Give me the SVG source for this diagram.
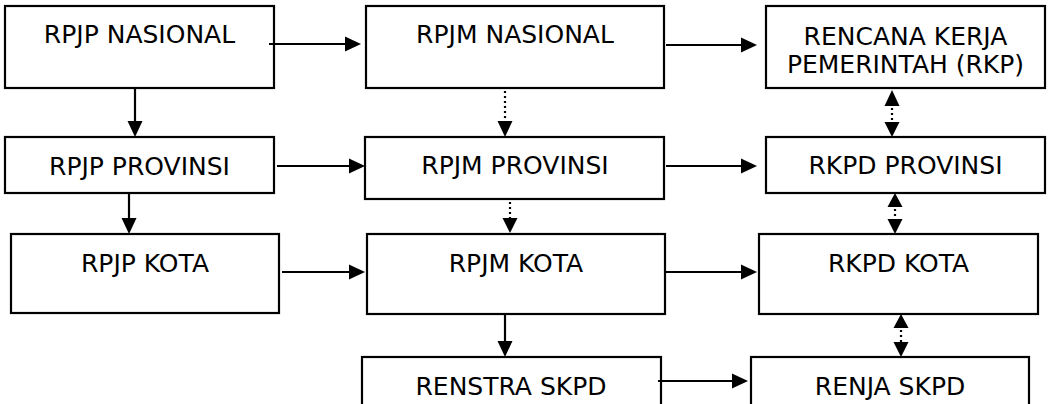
<svg xmlns="http://www.w3.org/2000/svg" width="1049" height="404" viewBox="0 0 1049 404">
<style>
.box{fill:#fff;stroke:#000;stroke-width:2.2}
.t{font-family:"DejaVu Sans",Verdana,sans-serif;font-size:25px;fill:#000;text-anchor:middle}
.ln{stroke:#000;stroke-width:2.2;fill:none}
.dot{stroke:#000;stroke-width:2.2;fill:none;stroke-dasharray:2 3}
.ah{fill:#000}
</style>
<rect width="1049" height="404" fill="#fff"/>
<g id="n1"><rect class="box" x="5" y="6" width="269" height="82"/><text class="t" x="139.5" y="43">RPJP NASIONAL</text></g>
<g id="n2"><rect class="box" x="366" y="6" width="298" height="82"/><text class="t" x="515" y="43">RPJM NASIONAL</text></g>
<g id="n3"><rect class="box" x="766" y="6" width="279" height="82"/><text class="t" x="905.5" y="45">RENCANA KERJA</text><text class="t" x="905.5" y="73">PEMERINTAH (RKP)</text></g>
<g id="n4"><rect class="box" x="5" y="137" width="269" height="56"/><text class="t" x="139.5" y="175">RPJP PROVINSI</text></g>
<g id="n5"><rect class="box" x="11" y="234" width="268" height="79"/><text class="t" x="145" y="272">RPJP KOTA</text></g>
<g id="n6"><rect class="box" x="365" y="137" width="299" height="62"/><text class="t" x="515" y="174">RPJM PROVINSI</text></g>
<g id="n7"><rect class="box" x="367" y="234" width="298" height="80"/><text class="t" x="516" y="272">RPJM KOTA</text></g>
<g id="n8"><rect class="box" x="766" y="137" width="279" height="56"/><text class="t" x="905.5" y="174">RKPD PROVINSI</text></g>
<g id="n9"><rect class="box" x="759" y="234" width="279" height="80"/><text class="t" x="898.5" y="272">RKPD KOTA</text></g>
<g id="n10"><rect class="box" x="362" y="357" width="299" height="60"/><text class="t" x="511" y="395">RENSTRA SKPD</text></g>
<g id="n11"><rect class="box" x="751" y="357" width="278" height="60"/><text class="t" x="890" y="395">RENJA SKPD</text></g>
<g id="connectors">
<line class="ln" x1="269" y1="44" x2="348" y2="44"/><polygon class="ah" points="345,36.5 361,44 345,51.5"/>
<line class="ln" x1="666" y1="45" x2="744" y2="45"/><polygon class="ah" points="741,37.5 757,45 741,52.5"/>
<line class="ln" x1="277" y1="166" x2="352" y2="166"/><polygon class="ah" points="349,158.5 365,166 349,173.5"/>
<line class="ln" x1="666" y1="166" x2="744" y2="166"/><polygon class="ah" points="741,158.5 757,166 741,173.5"/>
<line class="ln" x1="282" y1="272" x2="352" y2="272"/><polygon class="ah" points="349,264.5 365,272 349,279.5"/>
<line class="ln" x1="666" y1="272" x2="744" y2="272"/><polygon class="ah" points="741,264.5 757,272 741,279.5"/>
<line class="ln" x1="658" y1="381" x2="735" y2="381"/><polygon class="ah" points="732,373.5 748,381 732,388.5"/>
<line class="ln" x1="135" y1="88" x2="135" y2="124"/><polygon class="ah" points="127.5,121 142.5,121 135,137"/>
<line class="ln" x1="129" y1="193" x2="129" y2="221"/><polygon class="ah" points="121.5,218 136.5,218 129,234"/>
<line class="ln" x1="505" y1="314" x2="505" y2="344"/><polygon class="ah" points="497.5,341 512.5,341 505,357"/>
<line class="dot" x1="505" y1="91" x2="505" y2="122"/><polygon class="ah" points="497.5,121 512.5,121 505,137"/>
<line class="dot" x1="510" y1="202" x2="510" y2="218"/><polygon class="ah" points="502.5,218 517.5,218 510,233"/>
<polygon class="ah" points="884.5,106 899.5,106 892,90"/><line class="dot" x1="892" y1="108" x2="892" y2="122"/><polygon class="ah" points="884.5,122 899.5,122 892,137"/>
<polygon class="ah" points="887.5,207 902.5,207 895,193"/><line class="dot" x1="895" y1="209" x2="895" y2="219"/><polygon class="ah" points="887.5,219 902.5,219 895,234"/>
<polygon class="ah" points="893.5,328 908.5,328 901,314"/><line class="dot" x1="901" y1="330" x2="901" y2="342"/><polygon class="ah" points="893.5,342 908.5,342 901,357"/>
</g>
</svg>
